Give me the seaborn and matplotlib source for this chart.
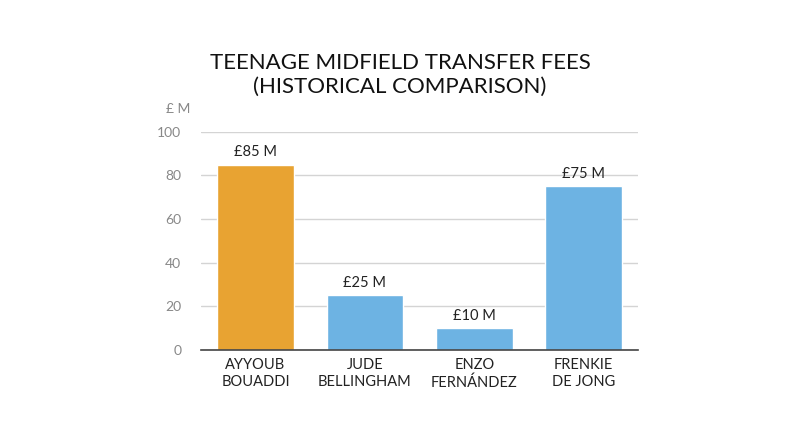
import matplotlib.pyplot as plt
import pandas as pd
import seaborn as sns

players = ['AYYOUB\nBOUADDI', 'JUDE\nBELLINGHAM', 'ENZO\nFERNÁNDEZ', 'FRENKIE\nDE JONG']
fees = [85, 25, 10, 75]
fee_labels = ['£85 M', '£25 M', '£10 M', '£75 M']
bar_colors = ['#E8A332', '#6DB3E3', '#6DB3E3', '#6DB3E3']
y_ticks = [0, 20, 40, 60, 80, 100]

sns.set_style('white')
plt.rcParams['font.family'] = ['Lato', 'DejaVu Sans']

df = pd.DataFrame({'player': players, 'fee': fees})

fig = plt.figure(figsize=(8, 4.47), dpi=100)
ax = fig.add_axes([0.251, 0.217, 0.547, 0.488])

sns.barplot(data=df, x='player', y='fee', hue='player', palette=bar_colors,
            legend=False, width=0.7, saturation=1, ax=ax, zorder=3)

for i, (v, lab) in enumerate(zip(fees, fee_labels)):
    ax.annotate(lab, (i, v), xytext=(0, 4), textcoords='offset points',
                ha='center', va='bottom', fontsize=10.5, color='#222222')

ax.set_ylim(0, 100)
ax.set_xlim(-0.5, 3.5)
ax.set_yticks(y_ticks)
ax.yaxis.grid(True, color='#d4d4d4', linewidth=1, zorder=0)
for s in ['top', 'right', 'left']:
    ax.spines[s].set_visible(False)
ax.spines['bottom'].set_color('#444444')
ax.spines['bottom'].set_linewidth(1.2)
ax.spines['bottom'].set_zorder(4)
ax.tick_params(axis='y', length=0, pad=14, labelsize=10, labelcolor='#888888')
ax.tick_params(axis='x', length=0, pad=6, labelsize=10.5, labelcolor='#222222')
for t in ax.get_xticklabels():
    t.set_linespacing(1.25)
ax.set_xlabel('')
ax.set_ylabel('')

fig.text(0.207, 0.757, '£ M', ha='left', va='center', fontsize=10, color='#888888')
fig.text(0.5, 0.86, 'TEENAGE MIDFIELD TRANSFER FEES', ha='center', va='center',
         fontsize=16, color='#111111')
fig.text(0.5, 0.805, '(HISTORICAL COMPARISON)', ha='center', va='center',
         fontsize=16, color='#111111')

fig.savefig('out.png', dpi=100)
